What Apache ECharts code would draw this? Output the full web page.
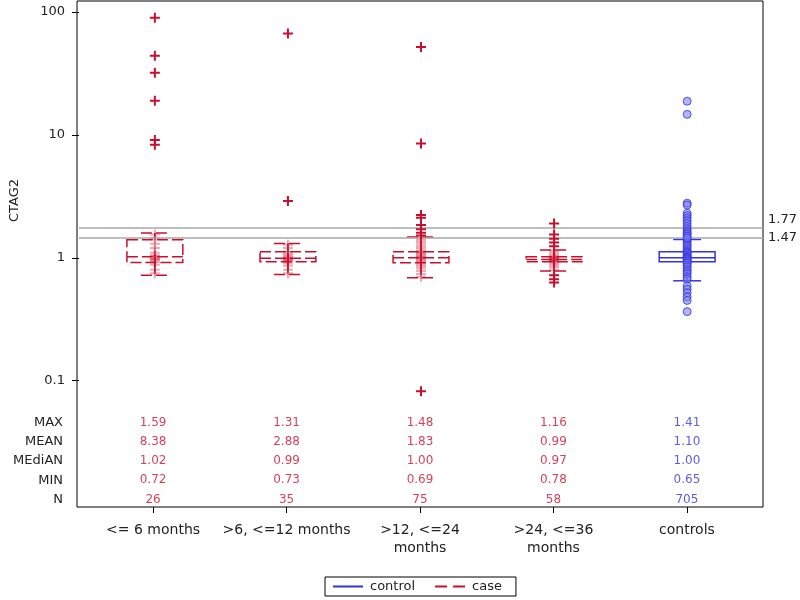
<!DOCTYPE html>
<html><head><meta charset="utf-8">
<script src="https://cdn.jsdelivr.net/npm/echarts@6/dist/echarts.min.js"></script>
<style>html,body{margin:0;padding:0;background:#fff}#c{width:800px;height:600px}</style>
</head><body><div id="c"></div>
<script>
// ---- data ----
const categories = ['<= 6 months', '>6, <=12 months', '>12, <=24\nmonths', '>24, <=36\nmonths', 'controls'];
const whiskerLow  = [0.72, 0.73, 0.69, 0.78, 0.65];
const quart1      = [0.914, 0.93, 0.91, 0.93, 0.93];
const medians     = [1.02, 0.99, 1.00, 0.97, 1.00];
const quart3      = [1.40, 1.12, 1.12, 1.02, 1.12];
const whiskerHigh = [1.59, 1.31, 1.48, 1.16, 1.41];

const outliersG1 = [90, 44, 32, 19, 9.1, 8.3];
const outliersG2 = [67, 2.9];
const outliersG3 = [52, 8.5, 2.23, 2.12, 1.85, 1.71, 1.60, 1.52, 0.082];
const outliersG4 = [1.9, 1.55, 1.43, 1.33, 1.24, 0.72, 0.67, 0.63];
const outliersControls = [18.8, 14.7, 2.78, 2.69, 2.3, 2.2, 2.1, 2.0, 1.9, 1.8, 1.72, 1.65, 1.6, 1.55, 1.5, 1.45, 0.59, 0.555, 0.52, 0.48, 0.45, 0.365];

const innerG1 = [1.55, 1.45, 1.3, 1.2, 1.1, 1.05, 1.03, 1.0, 0.98, 0.97, 0.95, 0.92, 0.88, 0.8, 0.75];
const innerG2 = [1.28, 1.2, 1.12, 1.08, 1.05, 1.02, 1.0, 0.99, 0.98, 0.96, 0.95, 0.93, 0.9, 0.86, 0.8, 0.75];
const innerG3 = [1.45, 1.4, 1.35, 1.3, 1.25, 1.2, 1.15, 1.12, 1.1, 1.08, 1.05, 1.03, 1.01, 1.0, 0.99, 0.97, 0.95, 0.93, 0.91, 0.88, 0.85, 0.82, 0.78, 0.74, 0.7];
const innerG4 = [1.14, 1.1, 1.06, 1.03, 1.01, 1.0, 0.99, 0.98, 0.97, 0.96, 0.95, 0.94, 0.92, 0.9, 0.87, 0.84, 0.8];
const innerControls = [1.4, 1.35, 1.3, 1.25, 1.2, 1.15, 1.12, 1.1, 1.08, 1.05, 1.03, 1.01, 1.0, 0.99, 0.98, 0.96, 0.94, 0.92, 0.9, 0.87, 0.84, 0.8, 0.77, 0.74, 0.7, 0.67];

const refLines = [1.77, 1.47];

const statRows   = ['MAX', 'MEAN', 'MEdiAN', 'MIN', 'N'];
const statMax    = [1.59, 1.31, 1.48, 1.16, 1.41];
const statMean   = [8.38, 2.88, 1.83, 0.99, 1.10];
const statMedian = [1.02, 0.99, 1.00, 0.97, 1.00];
const statMin    = [0.72, 0.73, 0.69, 0.78, 0.65];
const statN      = [26, 35, 75, 58, 705];

const yTicks = [0.1, 1, 10, 100];

// ---- styling ----
const RED = '#c8102e';
const BLUE = '#3333dd';
const FONT = '"DejaVu Sans", Arial, sans-serif';
const TXT = '#222';
const PLUS = 'path://M4,0H6V4H10V6H6V10H4V6H0V4H4Z';

const boxData = categories.map((c, i) => [i, whiskerLow[i], quart1[i], medians[i], quart3[i], whiskerHigh[i]]);
const caseBoxes = boxData.slice(0, 4);
const controlBoxes = boxData.slice(4);

function pts(groups) {
  const out = [];
  groups.forEach(([idx, arr]) => arr.forEach(v => out.push([idx, v])));
  return out;
}

function boxRender(dashed) {
  return function (params, api) {
    const x = api.value(0);
    const lo = api.coord([x, api.value(1)]);
    const b1 = api.coord([x, api.value(2)]);
    const md = api.coord([x, api.value(3)]);
    const b3 = api.coord([x, api.value(4)]);
    const hi = api.coord([x, api.value(5)]);
    const cx = lo[0];
    const hw = api.size([0.21, 0])[0];
    const cw = hw / 2;
    const color = api.visual('color');
    const style = { stroke: color, lineWidth: 1.5, fill: 'none', lineDash: dashed ? [11, 4] : null };
    return {
      type: 'group', children: [
        { type: 'rect', shape: { x: cx - hw, y: b3[1], width: 2 * hw, height: b1[1] - b3[1] }, style },
        { type: 'line', shape: { x1: cx - hw, y1: md[1], x2: cx + hw, y2: md[1] }, style },
        { type: 'line', shape: { x1: cx, y1: b3[1], x2: cx, y2: hi[1] }, style },
        { type: 'line', shape: { x1: cx, y1: b1[1], x2: cx, y2: lo[1] }, style },
        { type: 'line', shape: { x1: cx - cw, y1: hi[1], x2: cx + cw, y2: hi[1] }, style },
        { type: 'line', shape: { x1: cx - cw, y1: lo[1], x2: cx + cw, y2: lo[1] }, style }
      ]
    };
  };
}

const statTable = [statMax, statMean, statMedian, statMin, statN];
const tableData = [];
statTable.forEach((row, r) => row.forEach((v, i) => {
  tableData.push({
    value: [i, r, r === 4 ? String(v) : v.toFixed(2)],
    label: { color: i === 4 ? BLUE : RED }
  });
}));

const XMIN = -0.57, XMAX = 4.57;

const option = {
  animation: false,
  backgroundColor: '#fff',
  textStyle: { fontFamily: FONT },
  grid: [
    { left: 77, top: 1, width: 686, height: 506, show: true, borderColor: '#000', borderWidth: 1, backgroundColor: 'transparent' },
    { left: 77, top: 1, width: 686, height: 399 },
    { left: 77, top: 413, width: 686, height: 96 }
  ],
  xAxis: [
    { gridIndex: 0, type: 'value', min: XMIN, max: XMAX, position: 'bottom',
      axisLine: { show: false, onZero: false }, splitLine: { show: false },
      axisTick: { show: true, length: 6, customValues: [0, 1, 2, 3, 4], lineStyle: { color: '#000' } },
      axisLabel: { customValues: [0, 1, 2, 3, 4], formatter: v => categories[Math.round(v)], color: TXT, fontSize: 14, fontFamily: FONT, margin: 14, lineHeight: 18 } },
    { gridIndex: 1, type: 'value', min: XMIN, max: XMAX, show: false, axisLine: { onZero: false } },
    { gridIndex: 2, type: 'value', min: XMIN, max: XMAX, show: false, axisLine: { onZero: false } }
  ],
  yAxis: [
    { gridIndex: 0, type: 'value', show: false, axisLine: { onZero: false } },
    { gridIndex: 1, type: 'log', logBase: 10, min: 0.0697, max: 122.9, position: 'left',
      name: 'CTAG2', nameLocation: 'middle', nameGap: 58, nameTextStyle: { color: TXT, fontSize: 13, fontFamily: FONT },
      axisLine: { show: false, onZero: false }, splitLine: { show: false }, minorTick: { show: false },
      axisTick: { show: true, length: 7, customValues: yTicks, lineStyle: { color: '#000' } },
      axisLabel: { customValues: yTicks, color: TXT, fontSize: 13, fontFamily: FONT, margin: 14, formatter: v => String(v) } },
    { gridIndex: 2, type: 'category', data: statRows, inverse: true, position: 'left',
      axisLine: { show: false, onZero: false }, axisTick: { show: false }, splitLine: { show: false },
      axisLabel: { color: TXT, fontSize: 13, fontFamily: FONT, margin: 14 } }
  ],
  legend: {
    left: 325, top: 577, orient: 'horizontal',
    borderColor: '#000', borderWidth: 1, borderRadius: 0, padding: [3, 14, 3, 8],
    itemWidth: 34, itemHeight: 2, itemGap: 20,
    textStyle: { color: TXT, fontSize: 13, fontFamily: FONT },
    data: [
      { name: 'control', icon: 'path://M0,0H30V2H0Z' },
      { name: 'case', icon: 'path://M0,0H12V2H0Z M18,0H30V2H18Z' }
    ]
  },
  series: [
    { name: 'case', type: 'custom', xAxisIndex: 1, yAxisIndex: 1, renderItem: boxRender(true),
      itemStyle: { color: RED }, encode: { x: 0, y: [1, 2, 3, 4, 5] }, data: caseBoxes, z: 3,
      markLine: {
        silent: true, symbol: 'none',
        lineStyle: { color: '#a8a8a8', width: 1.5, type: 'solid' },
        label: { position: 'end', color: TXT, fontSize: 13, fontFamily: FONT, lineHeight: 16 },
        data: [
          { yAxis: refLines[0], label: { formatter: refLines[0].toFixed(2) + '\n ' } },
          { yAxis: refLines[1], label: { formatter: refLines[1].toFixed(2) } }
        ]
      } },
    { name: 'control', type: 'custom', xAxisIndex: 1, yAxisIndex: 1, renderItem: boxRender(false),
      itemStyle: { color: BLUE }, encode: { x: 0, y: [1, 2, 3, 4, 5] }, data: controlBoxes, z: 3 },
    { name: 'case inner', type: 'scatter', xAxisIndex: 1, yAxisIndex: 1, symbol: PLUS, symbolSize: 10,
      itemStyle: { color: RED, opacity: 0.35 }, z: 4,
      data: pts([[0, innerG1], [1, innerG2], [2, innerG3], [3, innerG4]]) },
    { name: 'case outliers', type: 'scatter', xAxisIndex: 1, yAxisIndex: 1, symbol: PLUS, symbolSize: 10,
      itemStyle: { color: RED, opacity: 1 }, z: 5,
      data: pts([[0, outliersG1], [1, outliersG2], [2, outliersG3], [3, outliersG4]]) },
    { name: 'control points', type: 'scatter', xAxisIndex: 1, yAxisIndex: 1, symbol: 'circle', symbolSize: 8,
      itemStyle: { color: 'rgba(120,120,238,0.7)', borderColor: BLUE, borderWidth: 1 }, z: 5,
      data: pts([[4, innerControls], [4, outliersControls]]) },
    { name: 'stats', type: 'scatter', xAxisIndex: 2, yAxisIndex: 2, symbol: 'circle', symbolSize: 0.1,
      itemStyle: { color: 'rgba(0,0,0,0)' }, silent: true,
      label: { show: true, position: 'inside', fontSize: 12, fontFamily: FONT, formatter: p => p.value[2] },
      data: tableData }
  ]
};

const chart = echarts.init(document.getElementById('c'), null, { renderer: 'canvas' });
chart.setOption(option);
</script></body></html>
